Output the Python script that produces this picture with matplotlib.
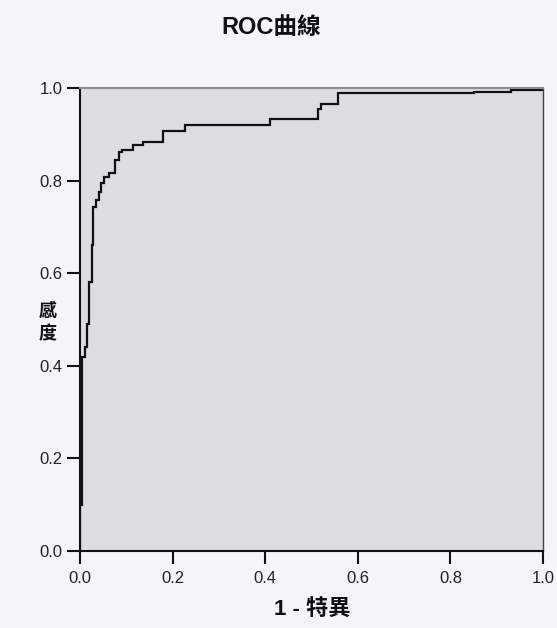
import matplotlib
matplotlib.use("Agg")
import matplotlib.pyplot as plt

plt.rcParams['font.family'] = ['Liberation Sans', 'Noto Sans CJK TC', 'DejaVu Sans']

# ROC curve vertices (1 - specificity, sensitivity), drawn as a post-step line
fpr = [0.0, 0.0, 0.004, 0.011, 0.016, 0.020, 0.026, 0.029, 0.035, 0.040, 0.045,
       0.052, 0.062, 0.075, 0.085, 0.091, 0.114, 0.136, 0.179, 0.227, 0.410,
       0.514, 0.520, 0.557, 0.76, 0.85, 0.93, 1.0]
tpr = [0.0, 0.10, 0.42, 0.44, 0.49, 0.58, 0.66, 0.743, 0.758, 0.775, 0.795,
       0.808, 0.816, 0.845, 0.862, 0.866, 0.877, 0.883, 0.908, 0.921, 0.932,
       0.955, 0.966, 0.989, 0.989, 0.991, 0.995, 1.0]
ticks = [0.0, 0.2, 0.4, 0.6, 0.8, 1.0]
tick_labels = ['0.0', '0.2', '0.4', '0.6', '0.8', '1.0']

W, H = 557, 628
fig = plt.figure(figsize=(W / 100, H / 100), dpi=100)
fig.patch.set_facecolor('#f4f5f9')

ax = fig.add_axes([80 / W, 1 - 551 / H, 463 / W, 463 / H])
ax.set_facecolor('#dcdde2')
ax.plot(fpr, tpr, drawstyle='steps-post', color='#111111', lw=1.6, solid_joinstyle='miter')

ax.set_xlim(0, 1)
ax.set_ylim(0, 1)
ax.set_xticks(ticks)
ax.set_xticklabels(tick_labels)
ax.set_yticks(ticks)
ax.set_yticklabels(tick_labels)
ax.tick_params(direction='out', length=9.4, width=1.5, labelsize=12, color='#111111',
               labelcolor='#222222')
ax.tick_params(axis='x', pad=5)
ax.tick_params(axis='y', pad=3)

for side in ['left', 'bottom']:
    ax.spines[side].set_color('#111111')
    ax.spines[side].set_linewidth(1.5)
ax.spines['top'].set_color('#8e8e8e')
ax.spines['top'].set_linewidth(1.5)
ax.spines['right'].set_color('#444444')
ax.spines['right'].set_linewidth(1.0)

fig.text(271 / W, 1 - 27 / H, 'ROC曲線', ha='center', va='center',
         fontsize=17, fontweight='bold', color='#111111')
fig.text(312 / W, 1 - 610 / H, '1 - 特異', ha='center', va='center',
         fontsize=16, fontweight='bold', color='#111111')
fig.text(48 / W, 1 - 323 / H, '感\n度', ha='center', va='center',
         fontsize=13, fontweight='bold', color='#111111', linespacing=1.5)

fig.savefig('out.png', dpi=100, facecolor=fig.get_facecolor())
